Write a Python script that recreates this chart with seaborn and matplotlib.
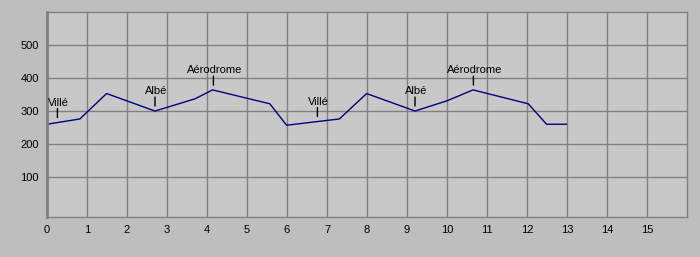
import numpy as np
import pandas as pd
import matplotlib
matplotlib.use("Agg")
import matplotlib.pyplot as plt
import matplotlib.transforms as mtransforms
import seaborn as sns

# Data
distance = [0, 0.82, 1.49, 2.70, 3.70, 4.14, 5.57, 5.99, 7.31, 7.99, 9.20, 10.00, 10.65, 12.03, 12.49, 12.99]
altitude = [260, 276, 353, 300, 337, 364, 322, 257, 276, 353, 300, 331, 364, 322, 260, 260]

place_names = ["Villé", "Albé", "Aérodrome", "Villé", "Albé", "Aérodrome"]
place_x = [0.26, 2.70, 4.16, 6.76, 9.20, 10.66]

x_ticks = list(range(0, 16))
y_ticks = [100, 200, 300, 400, 500]

df = pd.DataFrame({"distance": distance, "altitude": altitude})

sns.set_style("white")
plt.rcParams["font.family"] = ["Liberation Sans", "DejaVu Sans"]

outer_bg = "#bebebe"
inner_bg = "#c8c8c8"
grid_c = "#808080"
line_c = "#000080"

fig = plt.figure(figsize=(7.0, 2.57), dpi=100, facecolor=outer_bg)
ax = fig.add_axes([47 / 700, 40 / 257, 640 / 700, 205 / 257])
ax.set_facecolor(inner_bg)

sns.lineplot(data=df, x="distance", y="altitude", ax=ax, color=line_c,
             linewidth=1.0, estimator=None, sort=False)

ax.set_xlim(0, 16)
ax.set_ylim(-21, 600)
ax.set_xticks(x_ticks)
ax.set_xticklabels([str(t) for t in x_ticks])
ax.set_yticks(y_ticks)
ax.set_yticklabels([str(t) for t in y_ticks])
ax.set_xlabel("")
ax.set_ylabel("")

ax.grid(True, color=grid_c, linewidth=1.0)
ax.set_axisbelow(True)
for side, sp in ax.spines.items():
    sp.set_color(grid_c)
    sp.set_linewidth(1.0)
    sp.set_visible(True)
ax.spines["left"].set_linewidth(2.0)

ax.tick_params(axis="both", length=0, labelsize=8, colors="black")
ax.tick_params(axis="x", pad=6)
ax.tick_params(axis="y", pad=6)

# place labels with small vertical marker
px = 72.0 / fig.dpi  # points per pixel
for name, xp in zip(place_names, place_x):
    yp = float(np.interp(xp, distance, altitude))
    tr = mtransforms.offset_copy(ax.transData, fig=fig, x=0, y=0, units="points")
    ax.annotate("", xy=(xp, yp), xytext=(xp, yp),
                xycoords="data")
    seg_tr0 = mtransforms.offset_copy(ax.transData, fig=fig, x=0, y=5 * px, units="points")
    ax.plot([xp, xp], [yp, yp], alpha=0)
    ax.annotate("", xy=(xp, yp), xycoords="data",
                xytext=(0, 14 * px), textcoords="offset points",
                arrowprops=dict(arrowstyle="-", color="black", lw=1.0,
                                shrinkA=0, shrinkB=5 * px))
    ax.annotate(name, xy=(xp, yp), xycoords="data",
                xytext=(1 * px, 15 * px), textcoords="offset points",
                ha="center", va="bottom", fontsize=8, color="black")

fig.savefig("out.png", dpi=100, facecolor=outer_bg)
